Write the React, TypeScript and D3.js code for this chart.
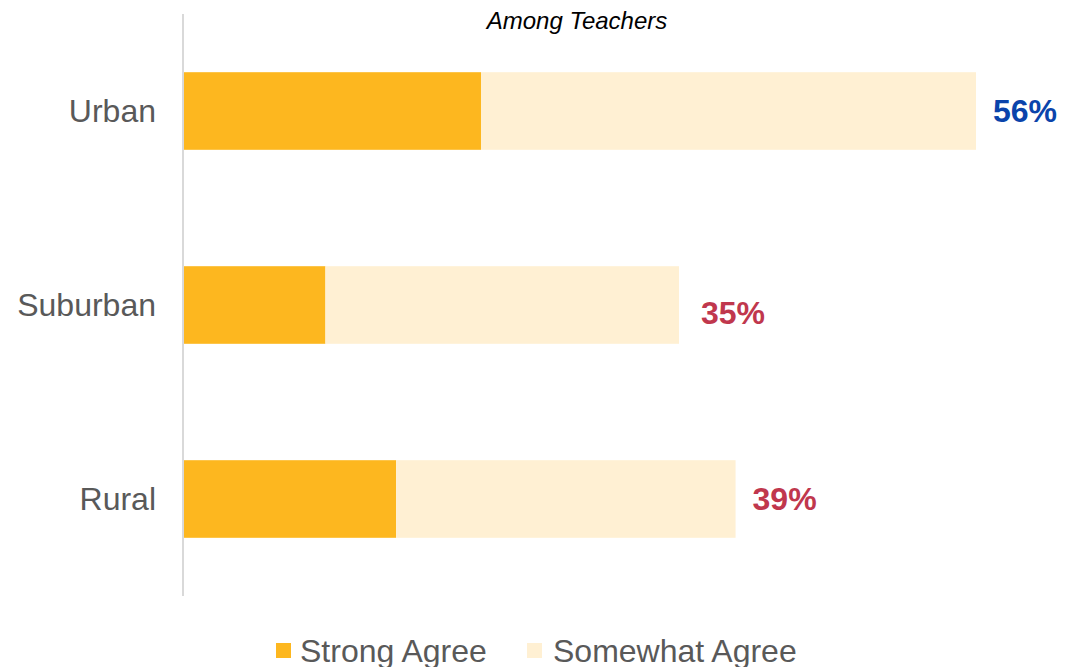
import React from "react";
import * as d3 from "d3";

const categories = ["Urban", "Suburban", "Rural"];
const strongAgree = [21, 10, 15];
const somewhatAgree = [35, 25, 24];
const totalLabels = ["56%", "35%", "39%"];
const labelColors = ["#0a44ab", "#c0374d", "#c0374d"];
const seriesNames = ["Strong Agree", "Somewhat Agree"];
const seriesColors = ["#fdb71f", "#fff0d3"];

export default function App() {
  const width = 1081;
  const height = 667;
  const x0 = 184;
  const x = d3.scaleLinear().domain([0, 56]).range([x0, 976]);
  const y = d3.scaleBand().domain(categories).range([14, 596]).paddingInner(0.6).paddingOuter(0.3);
  const font = "'Liberation Sans', Arial, sans-serif";

  return (
    <svg width={width} height={height} style={{ position: "absolute", left: 0, top: 0, fontFamily: font }}>
      <text x={577} y={20} textAnchor="middle" dominantBaseline="central" fontSize={24} fontStyle="italic" fill="#000">
        Among Teachers
      </text>
      {categories.map((c, i) => {
        const yy = y(c)!;
        const bw = y.bandwidth();
        const s = strongAgree[i];
        const t = s + somewhatAgree[i];
        return (
          <g key={c}>
            <rect x={x(0)} y={yy} width={x(s) - x(0)} height={bw} fill={seriesColors[0]} />
            <rect x={x(s)} y={yy} width={x(t) - x(s)} height={bw} fill={seriesColors[1]} />
            <text x={156} y={yy + bw / 2} textAnchor="end" dominantBaseline="central" fontSize={32} fill="#595959">
              {c}
            </text>
            <text x={x(t) + (i === 1 ? 22 : 17)} y={yy + bw / 2 + (i === 1 ? 8 : 0)} dominantBaseline="central" fontSize={32} fontWeight="bold" fill={labelColors[i]}>
              {totalLabels[i]}
            </text>
          </g>
        );
      })}
      <line x1={183} x2={183} y1={14} y2={596} stroke="#d9d9d9" strokeWidth={2} />
      <g>
        <rect x={276} y={643} width={15} height={15} fill={seriesColors[0]} />
        <text x={300} y={651} dominantBaseline="central" fontSize={32} fill="#595959">{seriesNames[0]}</text>
        <rect x={527} y={643} width={15} height={15} fill={seriesColors[1]} />
        <text x={553} y={651} dominantBaseline="central" fontSize={32} fill="#595959">{seriesNames[1]}</text>
      </g>
    </svg>
  );
}
